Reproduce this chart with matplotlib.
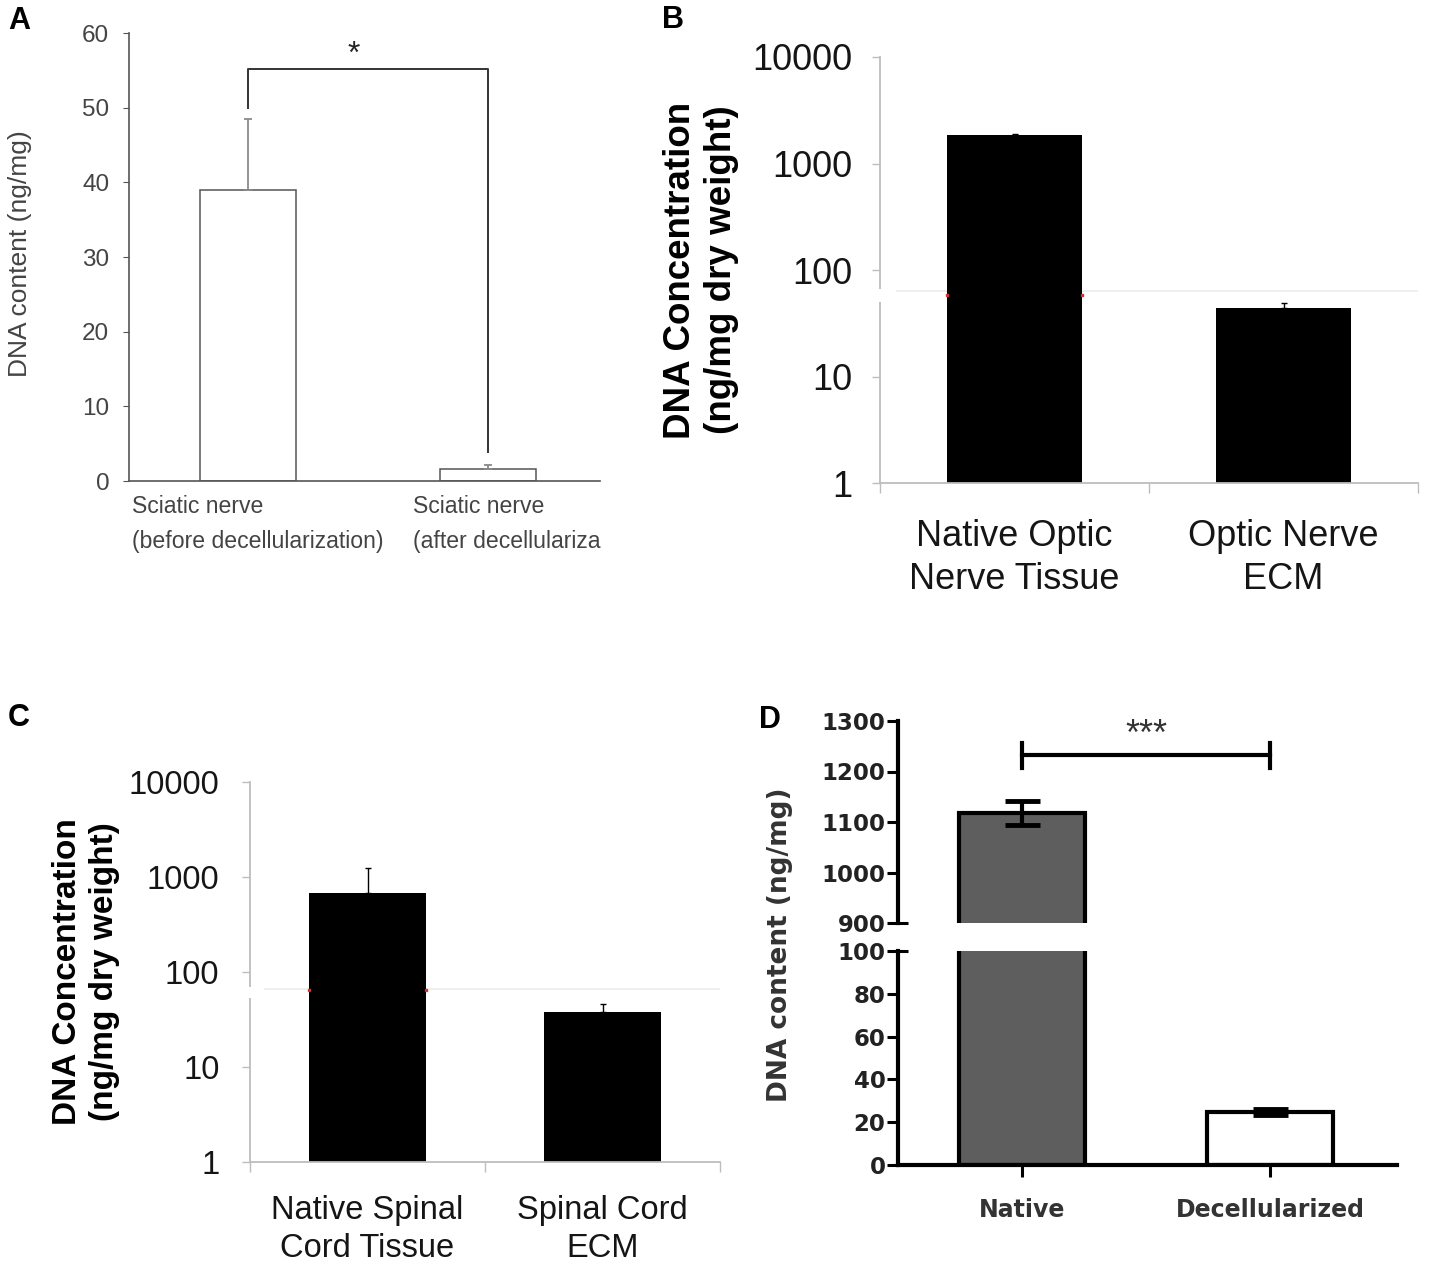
import matplotlib
matplotlib.use('Agg')
import matplotlib.pyplot as plt
import matplotlib.transforms as mtransforms
from matplotlib.patches import Rectangle
from matplotlib.ticker import FixedLocator, NullLocator

plt.rcParams['font.family'] = ['Liberation Sans', 'DejaVu Sans']

# panel A: sciatic nerve
a_labels = ['Sciatic nerve\n(before decellularization)', 'Sciatic nerve\n(after decellulariza']
a_values = [39.0, 1.6]
a_err = [9.5, 0.6]
a_bracket = [50.0, 55.2, 3.9]

# panel B: optic nerve (log)
b_labels = ['Native Optic\nNerve Tissue', 'Optic Nerve\nECM']
b_values = [1850, 44]
b_err = [30, 5]

# panel C: spinal cord (log)
c_labels = ['Native Spinal\nCord Tissue', 'Spinal Cord\nECM']
c_values = [680, 38]
c_err = [560, 8]

# panel D: broken axis
d_labels = ['Native', 'Decellularized']
d_values = [1118, 24.8]
d_err = [24, 1.6]
d_colors = ['#5e5e5e', 'white']
d_bracket_y = 1232

log_ticks = [1, 10, 100, 1000, 10000]
log_ticklabels = ['1', '10', '100', '1000', '10000']

W, H = 1429, 1272
fig = plt.figure(figsize=(W / 100, H / 100), dpi=100)


def ax_at(l, t, r, b):
    return fig.add_axes([l / W, 1 - b / H, (r - l) / W, (b - t) / H])


def ftext(x, y, s, **kw):
    fig.text(x / W, 1 - y / H, s, **kw)


x = [0, 1]

# ---------- A ----------
ax = ax_at(129, 33, 600, 481)
ax.bar(x, a_values, width=0.4, facecolor='white', edgecolor='#555555', linewidth=1.1)
ax.errorbar(x, a_values, yerr=[[0, 0], a_err], fmt='none', ecolor='#8a8a8a',
            elinewidth=1.3, capsize=3, capthick=1.3)
ax.plot([0, 0, 1, 1], [a_bracket[0], a_bracket[1], a_bracket[1], a_bracket[2]],
        color='#333333', lw=1.4)
ax.text(0.44, 57.0, '*', ha='center', va='center', fontsize=23, color='#222222')
ax.set_xlim(-0.496, 1.467)
ax.set_ylim(0, 60)
ax.set_yticks(range(0, 61, 10))
for s in ['top', 'right']:
    ax.spines[s].set_visible(False)
for s in ['left', 'bottom']:
    ax.spines[s].set_color('#555555')
    ax.spines[s].set_linewidth(1.2)
ax.tick_params(axis='y', length=4.3, color='#555555', labelsize=17.5, labelcolor='#444444', pad=10)
ax.set_xticks([])
ax.xaxis.set_minor_locator(FixedLocator([-0.483, 0.6875]))
ax.set_xticklabels(a_labels, minor=True, fontsize=16.6, color='#444444', ha='left',
                   linespacing=1.7)
ax.tick_params(axis='x', which='minor', length=0, pad=10)
ftext(20, 254, 'DNA content (ng/mg)', rotation=90, ha='center', va='center',
      fontsize=19, color='#444444')


# ---------- B and C ----------
def log_panel(ax, values, err, labels, xmax, fs, ypad, xpad, band, dot_y):
    ax.bar(x, values, width=0.5, color='black', zorder=2)
    ax.errorbar(x, values, yerr=[[0, 0], err], fmt='none', ecolor='black',
                elinewidth=1.0, capsize=2, capthick=1.0, zorder=2)
    ax.set_yscale('log')
    ax.set_ylim(1, 10000)
    ax.set_xlim(-0.5, xmax)
    ax.yaxis.set_major_locator(FixedLocator(log_ticks))
    ax.yaxis.set_minor_locator(NullLocator())
    ax.set_yticklabels(log_ticklabels)
    for s in ['top', 'right']:
        ax.spines[s].set_visible(False)
    for s in ['left', 'bottom']:
        ax.spines[s].set_color('#bdbdbd')
        ax.spines[s].set_linewidth(1.3)
    ax.tick_params(axis='y', length=6, width=1, color='#bdbdbd', labelsize=fs,
                   labelcolor='#151515', pad=ypad)
    ax.set_xticks([-0.5, 0.5, 1.5])
    ax.set_xticklabels([])
    ax.tick_params(axis='x', which='major', length=7, width=1, color='#bdbdbd')
    ax.xaxis.set_minor_locator(FixedLocator(x))
    ax.set_xticklabels(labels, minor=True, fontsize=fs, color='#151515', linespacing=1.28)
    ax.tick_params(axis='x', which='minor', length=0, pad=xpad)
    # broken-axis remnant
    trans = mtransforms.blended_transform_factory(ax.transAxes, ax.transData)
    ax.axhline(band[1] - 3, color='#ececec', lw=1.2, zorder=1)
    ax.add_patch(Rectangle((-0.03, band[0]), 0.06, band[1] - band[0], transform=trans,
                           facecolor='white', edgecolor='none', clip_on=False, zorder=3))
    ax.plot([-0.25, 0.25], [dot_y, dot_y], 's', color='#d03030', ms=2, zorder=4)


ax = ax_at(880, 57, 1418, 483)
log_panel(ax, b_values, b_err, b_labels, 1.5, 26, 14, 26, (50, 66), 58)
ftext(701, 270, 'DNA Concentration\n(ng/mg dry weight)', rotation=90, ha='center',
      va='center', fontsize=26.5, fontweight='bold', linespacing=1.22)

ax = ax_at(250, 782, 720, 1162)
log_panel(ax, c_values, c_err, c_labels, 1.458, 23.5, 16, 24, (53, 69), 64)
ftext(86, 972, 'DNA Concentration\n(ng/mg dry weight)', rotation=90, ha='center',
      va='center', fontsize=24, fontweight='bold', linespacing=1.22)

# ---------- D ----------
dfont = dict(family='DejaVu Sans', weight='bold')
ax_up = ax_at(898, 721, 1397, 923)
ax_lo = ax_at(898, 951, 1397, 1165)
for a, lim in [(ax_up, (900, 1300)), (ax_lo, (0, 100))]:
    a.bar(x, d_values, width=0.507, color=d_colors, edgecolor='black', linewidth=3)
    a.errorbar(x, d_values, yerr=d_err, fmt='none', ecolor='black', elinewidth=3,
               capsize=12.6, capthick=3.5)
    a.set_xlim(-0.5, 1.51)
    a.set_ylim(*lim)
    for s in ['top', 'right']:
        a.spines[s].set_visible(False)
    a.spines['left'].set_linewidth(3)
    a.spines['bottom'].set_linewidth(3)
    a.tick_params(axis='y', length=8, width=2.2, pad=1)
    # break mark
    a.plot([0, 0.02], [0, 0] if a is ax_up else [1, 1], transform=a.transAxes,
           clip_on=False, color='black', lw=2.2, solid_capstyle='butt')

ax_up.set_yticks(range(900, 1301, 100))
ax_up.spines['bottom'].set_visible(False)
ax_up.set_xticks([])
ax_lo.set_yticks(range(0, 101, 20))
for a in (ax_up, ax_lo):
    for lab in a.get_yticklabels():
        lab.set_fontproperties(dfont)
        lab.set_fontsize(16.5)
        lab.set_color('#222222')
ax_lo.set_xticks(x)
ax_lo.set_xticklabels(d_labels, fontsize=17, color='#333333', **dfont)
ax_lo.tick_params(axis='x', length=8.6, width=2.2, pad=15)

ax_up.plot([0, 1], [d_bracket_y, d_bracket_y], color='black', lw=3)
for xi in x:
    ax_up.plot([xi, xi], [d_bracket_y - 25, d_bracket_y + 25], color='black', lw=3)
ax_up.text(0.5, 1272, '***', ha='center', va='center', fontsize=26, color='#333333')
ftext(780, 945, 'DNA content (ng/mg)', rotation=90, ha='center', va='center',
      fontsize=19, color='#333333', **dfont)

# panel letters
for lt, px, py in [('A', 19, 21), ('B', 673, 20), ('C', 19, 718), ('D', 770, 720)]:
    ftext(px, py, lt, ha='center', va='center', fontsize=22, fontweight='bold')

fig.savefig('out.png', dpi=100)
